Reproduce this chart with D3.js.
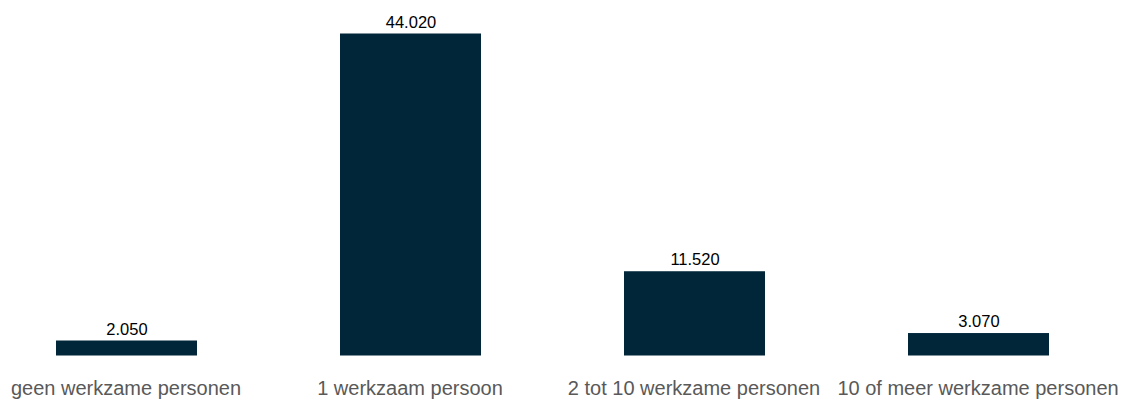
<!DOCTYPE html>
<html>
<head>
<meta charset="utf-8">
<script src="https://cdn.jsdelivr.net/npm/d3@7"></script>
<style>
  html, body { margin: 0; padding: 0; background: #ffffff; }
  svg { display: block; }
</style>
</head>
<body>
<svg id="chart" width="1121" height="401"></svg>
<script>
// Aantal bedrijven naar grootteklasse (werkzame personen)
const categories = [
  "geen werkzame personen",
  "1 werkzaam persoon",
  "2 tot 10 werkzame personen",
  "10 of meer werkzame personen"
];
const values = [2050, 44020, 11520, 3070];
const valueLabels = ["2.050", "44.020", "11.520", "3.070"];

const chartWidth = 1121, chartHeight = 401;
const plotBottom = 355.5, plotTop = 33.5;

const svg = d3.select("#chart");

const x = d3.scaleBand()
  .domain(categories)
  .range([-15, 1121])
  .paddingInner(0.5)
  .paddingOuter(0.25);

const y = d3.scaleLinear()
  .domain([0, 44020])
  .range([plotBottom, plotTop]);

const data = categories.map((c, i) => ({ cat: c, value: values[i], label: valueLabels[i] }));

// bars
svg.append("g")
  .selectAll("rect")
  .data(data)
  .join("rect")
  .attr("x", d => x(d.cat))
  .attr("y", d => y(d.value))
  .attr("width", x.bandwidth() - 1)
  .attr("height", d => plotBottom - y(d.value))
  .attr("fill", "#01263a");

// value labels above the bars
svg.append("g")
  .selectAll("text")
  .data(data)
  .join("text")
  .attr("x", d => x(d.cat) + x.bandwidth() / 2)
  .attr("y", d => y(d.value) - 6)
  .attr("text-anchor", "middle")
  .attr("font-family", "Liberation Sans, Arial, sans-serif")
  .attr("font-size", "16.5px")
  .attr("fill", "#000000")
  .text(d => d.label);

// category axis
const xAxis = d3.axisBottom(x).tickSize(0).tickPadding(0);
const axisG = svg.append("g")
  .attr("transform", `translate(-1, 385)`)
  .call(xAxis);
axisG.select(".domain").remove();
axisG.selectAll("text")
  .attr("dy", "0.5em")
  .attr("y", 0)
  .attr("font-family", "Liberation Sans, Arial, sans-serif")
  .attr("font-size", "20px")
  .attr("fill", "#595959");
</script>
</body>
</html>
